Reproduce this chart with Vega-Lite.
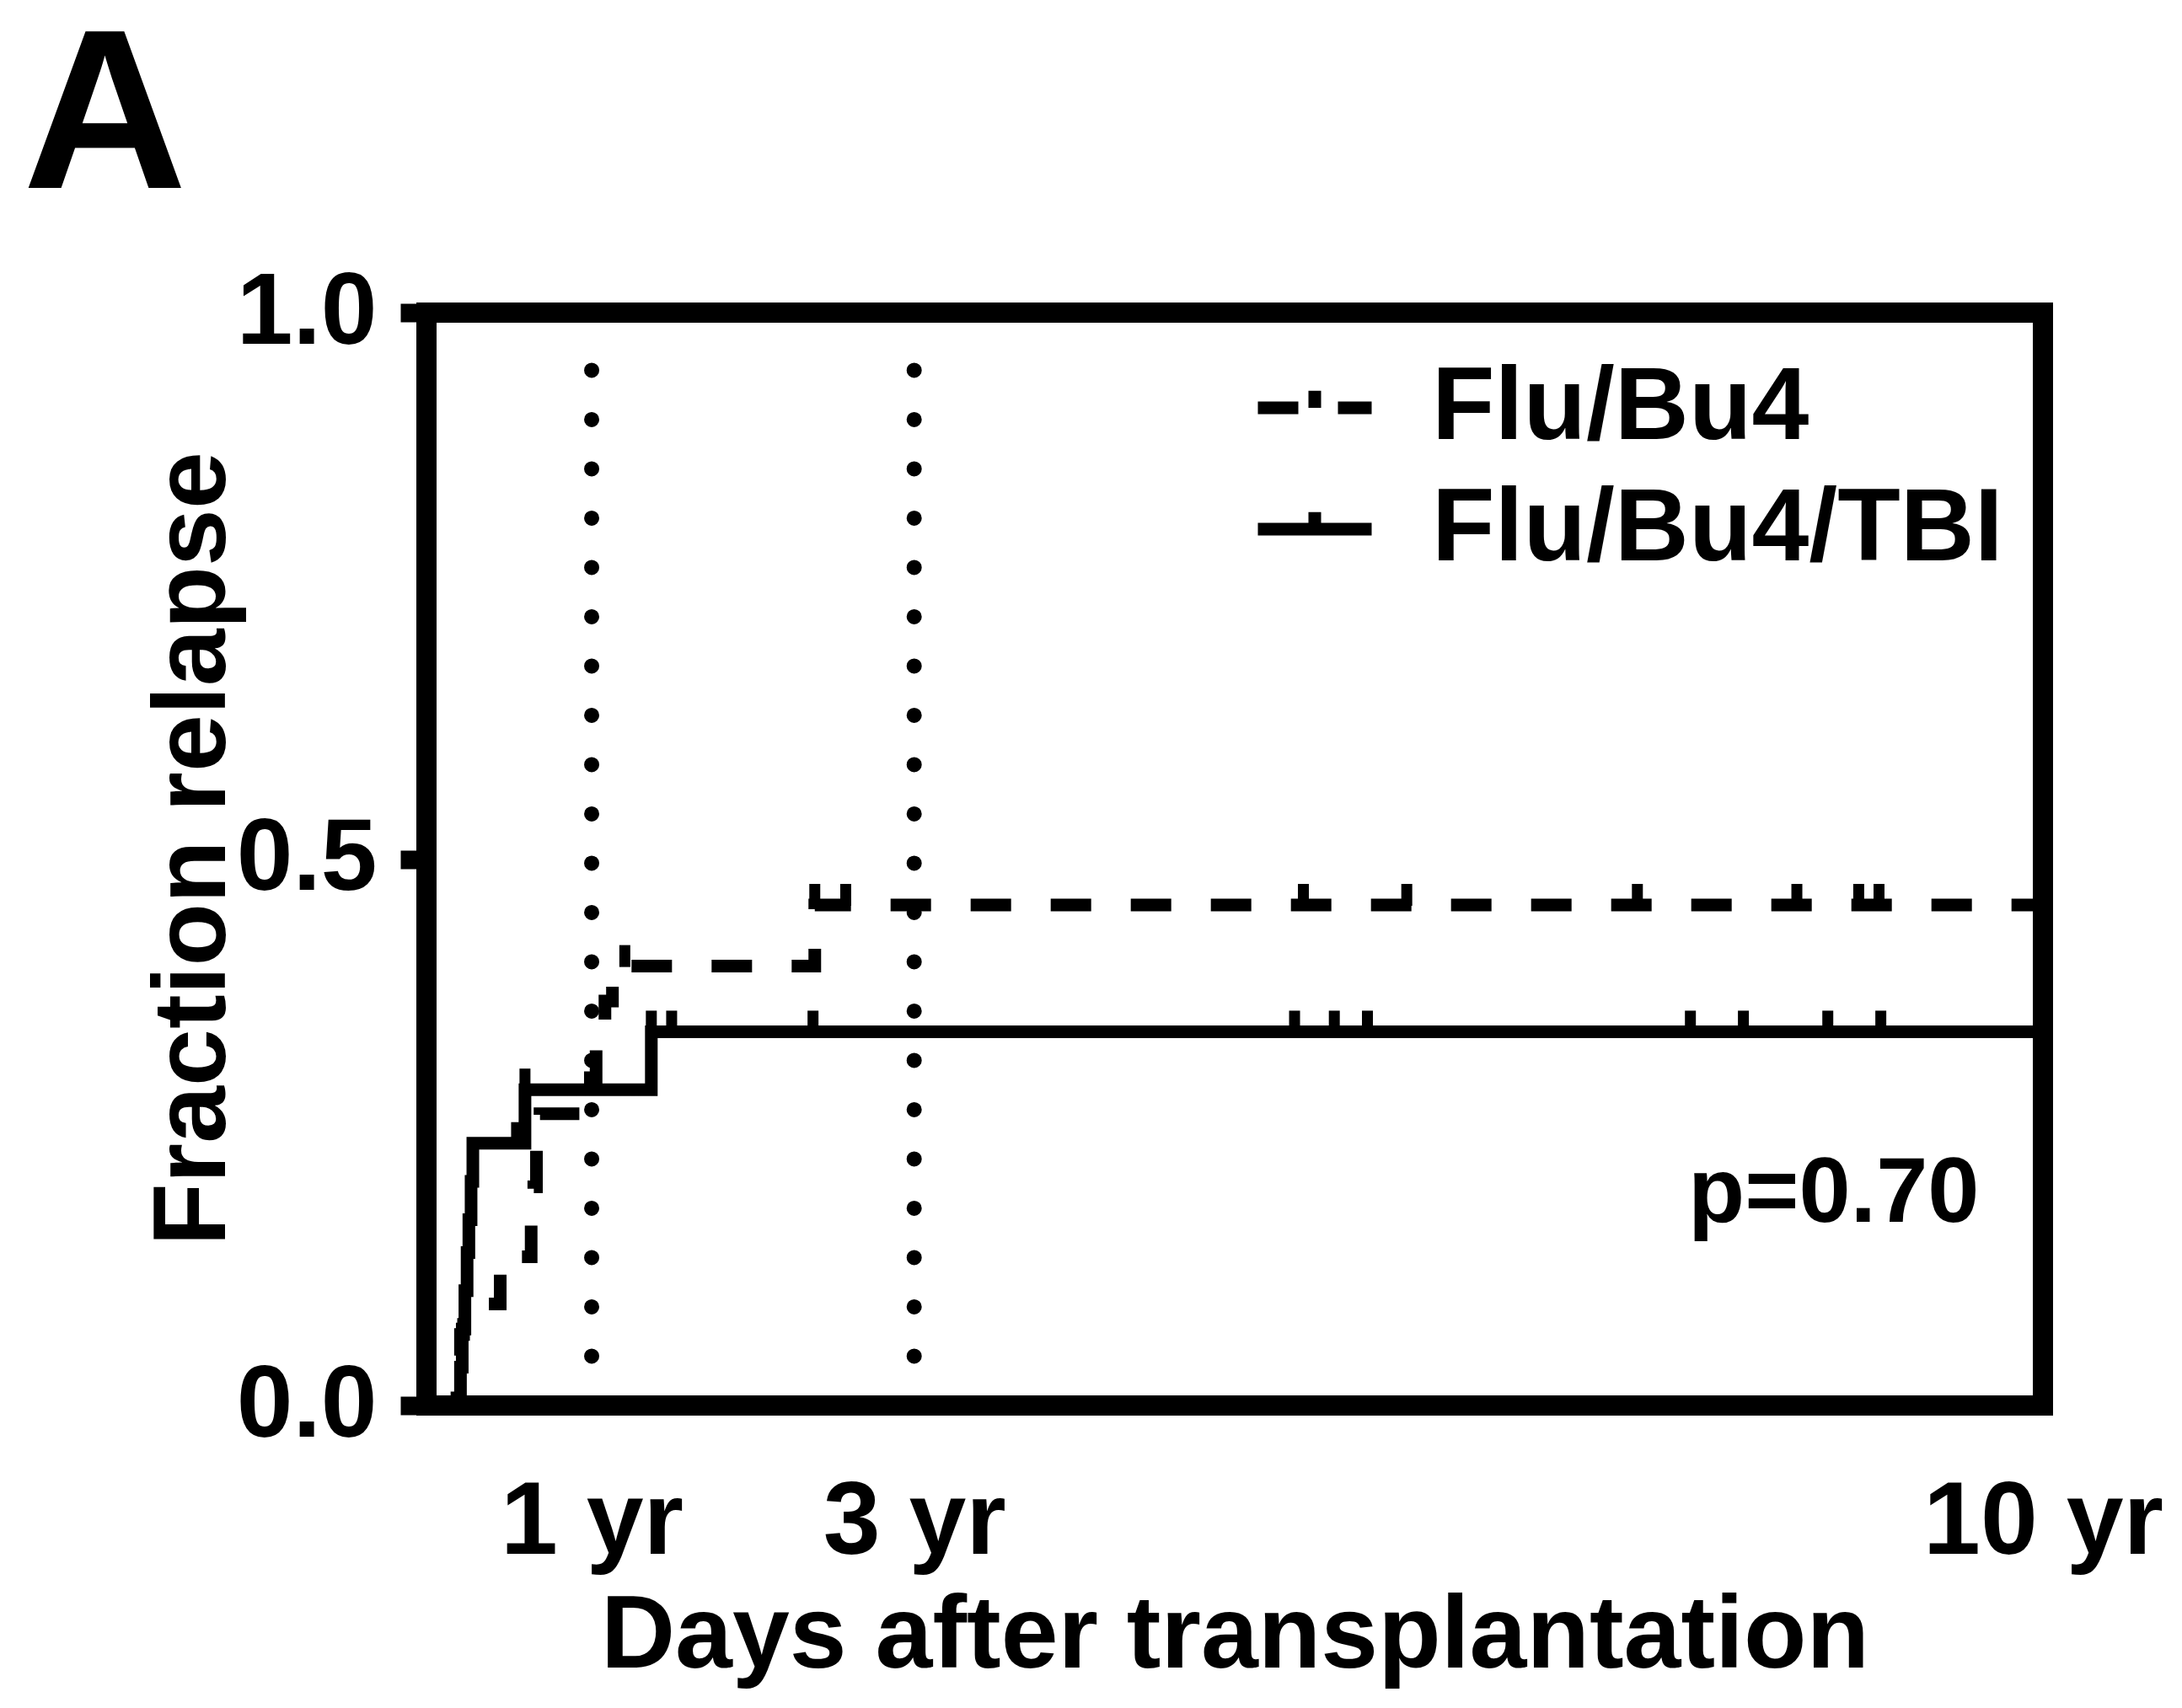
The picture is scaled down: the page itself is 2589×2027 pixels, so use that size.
{
  "$schema": "https://vega.github.io/schema/vega-lite/v6.json",
  "width": 1918,
  "height": 1297,
  "autosize": {"type": "none"},
  "padding": {"left": 506, "top": 371, "right": 165, "bottom": 359},
  "background": "white",
  "title": {"text": "A", "anchor": "start", "frame": "group", "fontSize": 270, "fontWeight": "bold", "font": "Liberation Sans", "color": "black", "baseline": "alphabetic", "dx": -479, "dy": 266, "offset": 84},
  "config": {
    "view": {"stroke": "black", "strokeWidth": 24},
    "font": "Liberation Sans"
  },
  "datasets": {
    "curves": [
      {"group": "Flu/Bu4/TBI", "day": 0, "fraction": 0},
      {"group": "Flu/Bu4/TBI", "day": 68, "fraction": 0.035},
      {"group": "Flu/Bu4/TBI", "day": 72, "fraction": 0.07},
      {"group": "Flu/Bu4/TBI", "day": 78, "fraction": 0.105},
      {"group": "Flu/Bu4/TBI", "day": 83, "fraction": 0.14},
      {"group": "Flu/Bu4/TBI", "day": 87, "fraction": 0.17},
      {"group": "Flu/Bu4/TBI", "day": 92, "fraction": 0.205},
      {"group": "Flu/Bu4/TBI", "day": 96, "fraction": 0.24},
      {"group": "Flu/Bu4/TBI", "day": 214, "fraction": 0.289},
      {"group": "Flu/Bu4/TBI", "day": 500, "fraction": 0.342},
      {"group": "Flu/Bu4/TBI", "day": 3640, "fraction": 0.342},
      {"group": "Flu/Bu4", "day": 0, "fraction": 0},
      {"group": "Flu/Bu4", "day": 60, "fraction": 0.035},
      {"group": "Flu/Bu4", "day": 68, "fraction": 0.065},
      {"group": "Flu/Bu4", "day": 75, "fraction": 0.093},
      {"group": "Flu/Bu4", "day": 158, "fraction": 0.136},
      {"group": "Flu/Bu4", "day": 228, "fraction": 0.17},
      {"group": "Flu/Bu4", "day": 234, "fraction": 0.2},
      {"group": "Flu/Bu4", "day": 240, "fraction": 0.235},
      {"group": "Flu/Bu4", "day": 248, "fraction": 0.267},
      {"group": "Flu/Bu4", "day": 362, "fraction": 0.3},
      {"group": "Flu/Bu4", "day": 375, "fraction": 0.335},
      {"group": "Flu/Bu4", "day": 395, "fraction": 0.37},
      {"group": "Flu/Bu4", "day": 412, "fraction": 0.402},
      {"group": "Flu/Bu4", "day": 870, "fraction": 0.458},
      {"group": "Flu/Bu4", "day": 3640, "fraction": 0.458}
    ],
    "censored": [
      {"group": "Flu/Bu4/TBI", "day": 195, "fraction": 0.24},
      {"group": "Flu/Bu4/TBI", "day": 214, "fraction": 0.289},
      {"group": "Flu/Bu4/TBI", "day": 500, "fraction": 0.342},
      {"group": "Flu/Bu4/TBI", "day": 546, "fraction": 0.342},
      {"group": "Flu/Bu4/TBI", "day": 866, "fraction": 0.342},
      {"group": "Flu/Bu4/TBI", "day": 1956, "fraction": 0.342},
      {"group": "Flu/Bu4/TBI", "day": 2046, "fraction": 0.342},
      {"group": "Flu/Bu4/TBI", "day": 2121, "fraction": 0.342},
      {"group": "Flu/Bu4/TBI", "day": 2852, "fraction": 0.342},
      {"group": "Flu/Bu4/TBI", "day": 2972, "fraction": 0.342},
      {"group": "Flu/Bu4/TBI", "day": 3163, "fraction": 0.342},
      {"group": "Flu/Bu4/TBI", "day": 3283, "fraction": 0.342},
      {"group": "Flu/Bu4", "day": 440, "fraction": 0.402},
      {"group": "Flu/Bu4", "day": 870, "fraction": 0.458},
      {"group": "Flu/Bu4", "day": 940, "fraction": 0.458},
      {"group": "Flu/Bu4", "day": 1976, "fraction": 0.458},
      {"group": "Flu/Bu4", "day": 2210, "fraction": 0.458},
      {"group": "Flu/Bu4", "day": 2732, "fraction": 0.458},
      {"group": "Flu/Bu4", "day": 3093, "fraction": 0.458},
      {"group": "Flu/Bu4", "day": 3233, "fraction": 0.458},
      {"group": "Flu/Bu4", "day": 3279, "fraction": 0.458}
    ],
    "landmarks": [
      {"day": 365, "label": "1 yr"},
      {"day": 1095, "label": "3 yr"}
    ],
    "annotation": [
      {"day": 3506, "fraction": 0.168, "text": "p=0.70"}
    ]
  },
  "layer": [
    {
      "data": {"name": "landmarks"},
      "mark": {"type": "rule", "color": "black", "strokeWidth": 18, "strokeCap": "round", "strokeDash": [0.1, 58.4]},
      "encoding": {
        "x": {
          "field": "day", "type": "quantitative",
          "scale": {"domain": [-9, 3650], "nice": false, "zero": false},
          "axis": {
            "values": [365, 1095, 3650],
            "labelExpr": "datum.value == 365 ? '1 yr' : datum.value == 1095 ? '3 yr' : '10 yr'",
            "ticks": false, "tickSize": 0, "domain": false, "grid": false,
            "labelFont": "Liberation Sans", "labelFontSize": 122, "labelFontWeight": "bold", "labelColor": "black",
            "labelPadding": 79, "labelFlush": false, "labelOverlap": false, "labelLimit": 0,
            "title": "Days after transplantation", "titleFont": "Liberation Sans", "titleFontSize": 122, "titleFontWeight": "bold", "titleColor": "black", "titlePadding": 15
          }
        },
        "y": {
          "datum": 0, "type": "quantitative",
          "scale": {"domain": [0, 1], "nice": false, "zero": false},
          "axis": {
            "values": [0, 0.5, 1], "format": ".1f",
            "ticks": true, "tickSize": 31, "tickWidth": 22, "tickColor": "black", "domain": false, "grid": false,
            "labelFont": "Liberation Sans", "labelFontSize": 120, "labelFontWeight": "bold", "labelColor": "black",
            "labelPadding": 28, "labelFlush": false, "labelLimit": 0,
            "title": "Fraction relapse", "titleFont": "Liberation Sans", "titleFontSize": 122, "titleFontWeight": "bold", "titleColor": "black", "titlePadding": 14, "titleY": 636
          }
        },
        "y2": {"datum": 0.95}
      }
    },
    {
      "data": {"name": "curves"},
      "mark": {"type": "line", "interpolate": "step-after", "color": "black", "strokeWidth": 15, "strokeCap": "butt"},
      "encoding": {
        "x": {"field": "day", "type": "quantitative"},
        "y": {"field": "fraction", "type": "quantitative"},
        "strokeDash": {
          "field": "group", "type": "nominal",
          "scale": {"domain": ["Flu/Bu4", "Flu/Bu4/TBI"], "range": [[48, 47], [1, 0]]},
          "legend": {
            "orient": "none", "legendX": 979, "legendY": 38, "title": null,
            "symbolType": "M-1,0H1M0,0V-0.3", "symbolSize": 18225, "symbolStrokeWidth": 15,
            "symbolStrokeColor": "black", "symbolFillColor": "transparent",
            "labelFont": "Liberation Sans", "labelFontSize": 122, "labelFontWeight": "bold", "labelColor": "black",
            "labelOffset": 64, "labelLimit": 0, "rowPadding": 8, "padding": 0
          }
        }
      }
    },
    {
      "data": {"name": "censored"},
      "mark": {"type": "tick", "orient": "vertical", "color": "black", "opacity": 1, "size": 26, "thickness": 13, "yOffset": -12},
      "encoding": {
        "x": {"field": "day", "type": "quantitative"},
        "y": {"field": "fraction", "type": "quantitative"}
      }
    },
    {
      "data": {"name": "annotation"},
      "mark": {"type": "text", "align": "right", "baseline": "alphabetic", "font": "Liberation Sans", "fontSize": 110, "fontWeight": "bold", "color": "black"},
      "encoding": {
        "x": {"field": "day", "type": "quantitative"},
        "y": {"field": "fraction", "type": "quantitative"},
        "text": {"field": "text", "type": "nominal"}
      }
    }
  ]
}
